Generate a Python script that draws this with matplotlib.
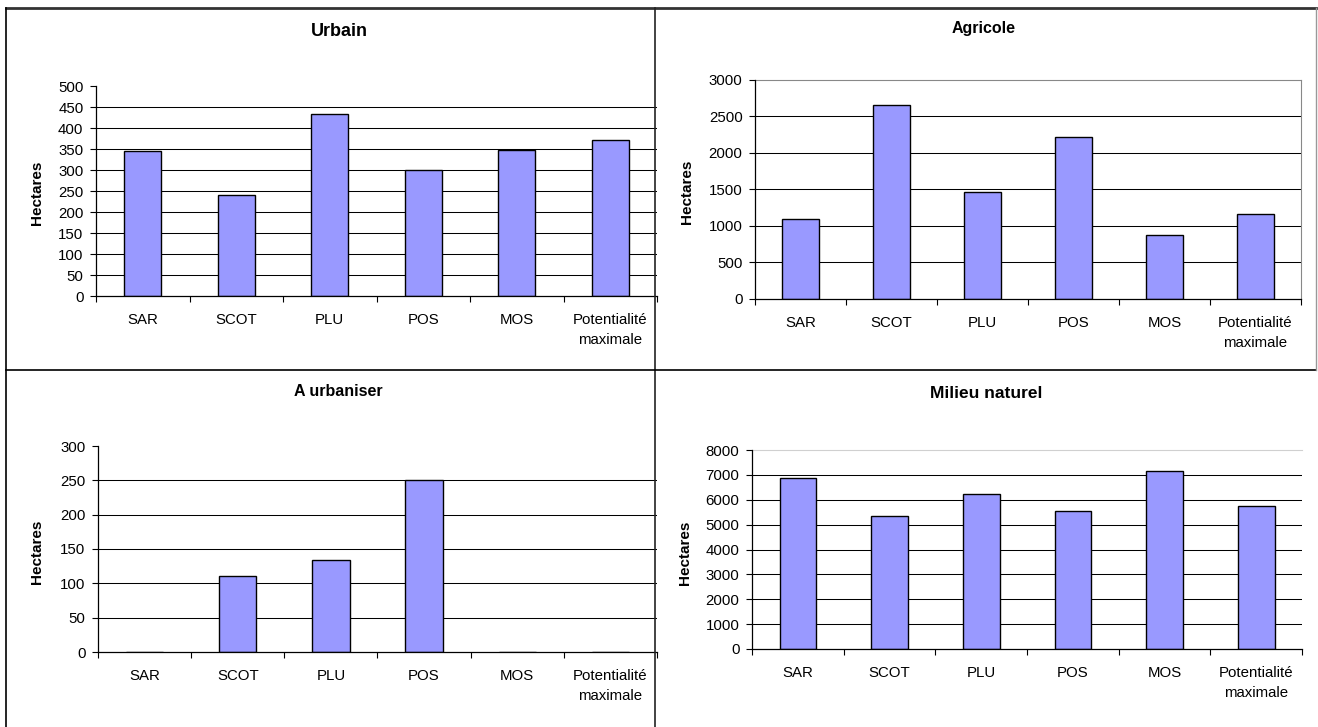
import matplotlib

matplotlib.use("Agg")
import matplotlib.pyplot as plt
from matplotlib.lines import Line2D
import numpy as np

plt.rcParams['font.family'] = ['Liberation Sans', 'DejaVu Sans']

# Data (hectares)
categories = ["SAR", "SCOT", "PLU", "POS", "MOS", "Potentialité\nmaximale"]
urbain = [345, 240, 434, 300, 347, 371]
agricole = [1100, 2655, 1470, 2220, 875, 1160]
a_urbaniser = [0, 110, 134, 251, 0, 0]
milieu_naturel = [6880, 5365, 6250, 5555, 7140, 5740]

W, H = 1318, 727
fig = plt.figure(figsize=(W / 100, H / 100), dpi=100)
fig.patch.set_facecolor('white')


def px_axes(left, right, y_top, y_zero):
	# convert pixel box to figure fractions
	return [left / W, 1 - y_zero / H, (right - left) / W, (y_zero - y_top) / H]


def fig_line(x0, y0, x1, y1, color='black', lw=1.0):
	fig.add_artist(Line2D([x0 / W, x1 / W], [1 - y0 / H, 1 - y1 / H],
	                      transform=fig.transFigure, color=color, lw=lw, zorder=10))


def bar_panel(box, values, ymax, step, title, title_xy, title_size, ylab_xy, frame=None):
	ax = fig.add_axes(px_axes(*box))
	x = np.arange(len(categories))
	ax.bar(x, values, width=0.4, color='#9999FF', edgecolor='black', linewidth=1.0, zorder=3)
	ax.set_xlim(-0.5, len(categories) - 0.5)
	ax.set_ylim(0, ymax)
	ticks = np.arange(0, ymax + step, step)
	ax.set_yticks(ticks)
	ax.set_yticklabels([str(int(t)) for t in ticks], fontsize=10.8)
	# gridlines at every tick except 0 and the top one
	for t in ticks[1:-1]:
		ax.axhline(t, color='black', lw=0.75, zorder=1)
	# category boundary ticks, labels centred between them
	ax.set_xticks(np.arange(-0.5, len(categories), 1.0))
	ax.set_xticklabels([])
	ax.set_xticks(x, minor=True)
	ax.set_xticklabels(categories, minor=True, fontsize=10.8, va='top')
	for lbl in ax.get_xticklabels(minor=True):
		lbl.set_linespacing(1.5)
	ax.tick_params(axis='x', which='major', direction='out', length=4, width=0.8)
	ax.tick_params(axis='x', which='minor', length=0, pad=12.5)
	ax.tick_params(axis='y', direction='out', length=4, width=0.8, pad=5)
	for s in ['left', 'bottom']:
		ax.spines[s].set_linewidth(0.9)
		ax.spines[s].set_zorder(4)
	ax.spines['top'].set_visible(False)
	ax.spines['right'].set_visible(False)
	if frame == 'gray':
		ax.spines['top'].set_visible(True)
		ax.spines['right'].set_visible(True)
		ax.spines['top'].set_color('#888888')
		ax.spines['right'].set_color('#888888')
	elif frame == 'light':
		ax.spines['top'].set_visible(True)
		ax.spines['top'].set_color('#d0d0d0')
	ax.set_facecolor('none')
	fig.text(title_xy[0] / W, 1 - title_xy[1] / H, title, ha='center', va='center',
	         fontsize=title_size, fontweight='bold')
	fig.text(ylab_xy[0] / W, 1 - ylab_xy[1] / H, "Hectares", ha='center', va='center',
	         rotation=90, fontsize=11, fontweight='bold')
	return ax


bar_panel((96, 657, 86, 296), urbain, 500, 50, "Urbain", (339, 32), 13, (37, 193))
bar_panel((755, 1301, 80, 299), agricole, 3000, 500, "Agricole", (984, 29), 11.5, (687, 192), frame='gray')
bar_panel((98, 657, 446, 652), a_urbaniser, 300, 50, "A urbaniser", (338, 392), 11.5, (37, 552))
bar_panel((752, 1302, 450, 649), milieu_naturel, 8000, 1000, "Milieu naturel", (986, 393), 12.5, (685, 553), frame='light')

# panel borders
fig_line(6, 8, 1316, 8, color='#333333', lw=2.0)
fig_line(6, 8, 6, 727, color='black', lw=1.2)
fig_line(655, 8, 655, 727, color='#222222', lw=1.2)
fig_line(6, 370, 1316, 370, color='black', lw=1.2)
fig_line(1316, 8, 1316, 370, color='#999999', lw=1.0)

fig.savefig("out.png", dpi=100)
